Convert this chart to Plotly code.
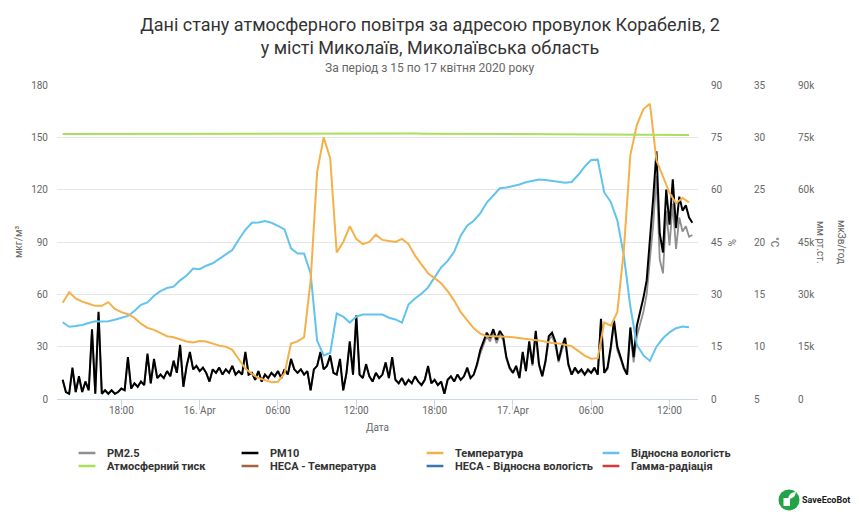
import pandas as pd
import plotly.graph_objects as go

# --- data (15-17 April 2020) ---
# PM values every 15 min from 15 Apr 13:30, one row per hour
pm10 = [
    11, 4, 3, 18,   4, 13, 4, 10,   5, 40, 3, 50,   3, 5, 3, 5,
    3, 4, 6, 5,     24, 6, 9, 7,    10, 8, 26, 9,   23, 12, 14, 12,
    16, 13, 22, 15, 31, 7, 19, 27,  17, 19, 16, 18, 15, 10, 17, 15,
    18, 14, 17, 15, 19, 14, 16, 14, 27, 14, 15, 11, 16, 10, 14, 12,
    15, 13, 16, 12, 17, 14, 23, 17, 15, 17, 14, 16, 5, 17, 19, 27,
    17, 19, 25, 15, 14, 23, 5, 15,  33, 14, 48, 14, 12, 20, 13, 10,
    15, 12, 14, 21, 12, 24, 11, 9,  12, 8, 11, 9,   13, 10, 8, 11,
    19, 9, 11, 8,   10, 3, 11, 13,  10, 14, 11, 13, 18, 12, 14, 20,
    28, 33, 38, 35, 40, 34, 39, 36, 24, 18, 15, 19, 12, 27, 16, 33,
    20, 39, 20, 13, 22, 36, 38, 33, 22, 30, 35, 20, 14, 18, 15, 17,
    14, 17, 15, 18, 14, 46, 15, 18, 30, 45, 30, 24, 18, 14, 41, 24,
    42, 50, 58, 68, 90, 115, 142, 95, 84, 120, 100, 126, 98, 116, 108, 111,
    104, 101,
]
pm25 = [
    11, 4, 3, 17,   4, 12, 4, 10,   5, 39, 3, 49,   3, 5, 3, 5,
    3, 4, 6, 5,     23, 6, 9, 7,    10, 8, 25, 9,   22, 12, 14, 12,
    16, 13, 21, 15, 30, 7, 19, 26,  17, 19, 16, 18, 15, 10, 17, 15,
    18, 14, 17, 15, 19, 14, 16, 14, 26, 14, 15, 11, 16, 10, 14, 12,
    15, 13, 16, 12, 17, 14, 22, 17, 15, 17, 14, 16, 5, 17, 19, 26,
    17, 19, 24, 15, 14, 22, 5, 15,  32, 14, 46, 14, 12, 19, 13, 10,
    15, 12, 14, 20, 12, 23, 11, 9,  12, 8, 11, 9,   13, 10, 8, 11,
    18, 9, 11, 8,   10, 3, 11, 13,  10, 14, 11, 13, 17, 12, 14, 19,
    26, 31, 36, 33, 38, 32, 37, 34, 23, 17, 15, 18, 12, 26, 16, 31,
    19, 37, 19, 13, 21, 34, 36, 31, 21, 28, 33, 19, 14, 17, 15, 16,
    14, 16, 15, 17, 14, 44, 15, 17, 28, 43, 28, 23, 17, 14, 38, 21,
    36, 43, 50, 60, 78, 100, 128, 80, 72, 108, 88, 112, 86, 104, 96, 99,
    93, 94,
]
# temperature (°C) and relative humidity (%) every 30 min from 15 Apr 13:30
temperature = [
    14.2, 15.2, 14.6, 14.3, 14.1, 13.9, 13.9, 14.25, 13.6, 13.3,
    13.1, 12.75, 12.2, 11.8, 11.6, 11.3, 11.0, 10.9, 10.7, 10.5,
    10.4, 10.55, 10.5, 10.3, 10.1, 10.0, 9.7, 8.8, 7.9, 7.4,
    7.0, 6.8, 6.6, 6.65, 7.45, 10.3, 10.5, 10.9, 16.3, 26.7,
    30.0, 28.0, 19.0, 20.0, 21.5, 20.3, 19.8, 20.0, 20.7, 20.2,
    20.1, 20.0, 20.3, 19.8, 18.7, 17.9, 17.0, 16.55, 16.05, 15.3,
    14.4, 13.3, 12.5, 11.75, 11.25, 11.0, 11.0, 11.0, 10.95, 10.9,
    10.8, 10.7, 10.65, 10.6, 10.45, 10.35, 10.3, 10.2, 10.05, 9.6,
    9.15, 8.85, 8.9, 12.3, 12.0, 13.3, 19.2, 28.3, 31.2, 32.7,
    33.2, 27.8, 26.3, 24.7, 23.7, 24.2, 23.8,
]
humidity = [
    22.0, 20.7, 20.9, 21.2, 21.8, 22.3, 22.2, 22.3, 22.7, 23.2,
    23.8, 25.2, 27.0, 27.7, 29.6, 30.9, 31.8, 32.2, 34.0, 35.4,
    37.4, 37.2, 38.2, 38.9, 40.1, 41.3, 42.7, 45.7, 48.5, 50.5,
    50.6, 51.0, 50.5, 49.6, 48.6, 43.2, 41.7, 41.7, 36.0, 16.7,
    12.5, 13.2, 24.5, 23.6, 21.9, 23.6, 24.2, 24.2, 24.2, 24.2,
    23.3, 22.8, 21.9, 27.1, 28.8, 30.2, 32.0, 34.7, 37.7, 39.6,
    42.2, 46.8, 49.7, 51.1, 53.2, 56.3, 58.5, 60.4, 60.6, 61.0,
    61.5, 62.1, 62.6, 62.9, 62.8, 62.6, 62.3, 62.0, 62.2, 64.2,
    66.6, 68.5, 68.6, 59.2, 56.5, 51.2, 41.2, 26.5, 15.5, 12.5,
    10.9, 15.0, 17.4, 19.1, 20.3, 20.75, 20.55,
]
# atmospheric pressure, hourly from 15 Apr 13:30
pressure = [
    75950, 75960, 75970, 75990, 76000, 76010, 76020, 76040, 76050, 76060,
    76070, 76080, 76090, 76100, 76110, 76120, 76130, 76140, 76150, 76160,
    76160, 76170, 76160, 76150, 76140, 76120, 76100, 76080, 76060, 76030,
    76000, 75980, 75960, 75940, 75920, 75900, 75880, 75860, 75840, 75820,
    75800, 75780, 75760, 75740, 75720, 75700, 75680, 75670, 75660,
]

start = "2020-04-15 13:30"
t_pm = pd.date_range(start, periods=len(pm10), freq="15min")
t_half = pd.date_range(start, periods=len(temperature), freq="30min")
t_hour = pd.date_range(start, periods=len(pressure), freq="60min")

tick_dates = ["2020-04-15 18:00", "2020-04-16 00:00", "2020-04-16 06:00", "2020-04-16 12:00",
              "2020-04-16 18:00", "2020-04-17 00:00", "2020-04-17 06:00", "2020-04-17 12:00"]
tick_labels = ["18:00", "16. Apr", "06:00", "12:00", "18:00", "17. Apr", "06:00", "12:00"]

series = [
    ("PM2.5", "#8f8f8f"),
    ("PM10", "#000000"),
    ("Температура", "#f5b04a"),
    ("Відносна вологість", "#62c3ee"),
    ("Атмосферний тиск", "#a8e05a"),
    ("НЕСА - Температура", "#a4633c"),
    ("НЕСА - Відносна вологість", "#3a76ad"),
    ("Гамма-радіація", "#d83a3a"),
]
colors = dict(series)

FONT = "Roboto, sans-serif"

# the page body adds 8px around the figure, so the figure is 8px smaller
OFF = 8
W, H = 860 - OFF, 523 - OFF
ML, MR, MT, MB = 57 - OFF, 10, 85 - OFF, 124
PW, PH = W - ML - MR, H - MT - MB


def px(x):
    # screen x (pixels) -> paper fraction
    return (x - OFF - ML) / PW


def py(y):
    # screen y (pixels) -> paper fraction
    return (H - MB - (y - OFF)) / PH


fig = go.Figure()
fig.add_trace(go.Scatter(x=t_pm, y=pm25, mode="lines", line=dict(color=colors["PM2.5"], width=1.8),
                         showlegend=False, yaxis="y"))
fig.add_trace(go.Scatter(x=t_pm, y=pm10, mode="lines", line=dict(color=colors["PM10"], width=2),
                         showlegend=False, yaxis="y"))
fig.add_trace(go.Scatter(x=t_half, y=temperature, mode="lines",
                         line=dict(color=colors["Температура"], width=2), showlegend=False, yaxis="y3"))
fig.add_trace(go.Scatter(x=t_half, y=humidity, mode="lines",
                         line=dict(color=colors["Відносна вологість"], width=2), showlegend=False, yaxis="y2"))
fig.add_trace(go.Scatter(x=t_hour, y=pressure, mode="lines",
                         line=dict(color=colors["Атмосферний тиск"], width=2), showlegend=False, yaxis="y4"))

# legend: one small legend per entry, 4 columns x 2 rows
col_text = [105, 268, 453, 629]
row_y = [453, 466]
legend_layouts = {}
for i, (name, c) in enumerate(series):
    key = "legend" if i == 0 else f"legend{i + 1}"
    fig.add_trace(go.Scatter(x=[None], y=[None], mode="markers", name=name,
                             marker=dict(symbol="line-ew", size=12, line=dict(width=2.5, color=c)),
                             legend=key, hoverinfo="skip"))
    legend_layouts[key] = dict(
        x=px(col_text[i % 4] - 38), y=py(row_y[i // 4]), xanchor="left", yanchor="middle",
        bgcolor="rgba(0,0,0,0)", borderwidth=0,
        font=dict(family=FONT, size=11, color="#333333", weight="bold"),
    )

axis_font = dict(family=FONT, size=10, color="#666666")

fig.update_layout(
    width=W, height=H,
    margin=dict(l=ML, r=MR, t=MT, b=MB),
    paper_bgcolor="white", plot_bgcolor="white",
    title=dict(
        text="Дані стану атмосферного повітря за адресою провулок Корабелів, 2<br>у місті Миколаїв, Миколаївська область",
        x=(430 - OFF) / W, xanchor="center", y=1 - (30.5 - OFF) / H, yanchor="middle",
        font=dict(family=FONT, size=18, color="#333333"),
    ),
    xaxis=dict(
        domain=[0, px(698)], type="date",
        range=["2020-04-15 13:04", "2020-04-17 14:11"],
        tickvals=tick_dates, ticktext=tick_labels,
        showgrid=False, showline=True, linecolor="#ccd6eb", linewidth=1,
        ticks="outside", ticklen=10, tickcolor="#ccd6eb", ticklabelstandoff=-8,
        tickfont=axis_font, zeroline=False,
        title=dict(text="Дата", font=dict(family=FONT, size=10, color="#666666"), standoff=8),
    ),
    yaxis=dict(
        range=[0, 180], dtick=30, tick0=0,
        showgrid=True, gridcolor="#e6e6e6", zeroline=False, showline=False,
        tickfont=axis_font, ticklabelstandoff=8,
        title=dict(text="мкг/м³", font=dict(family=FONT, size=10, color="#666666"), standoff=6),
    ),
    yaxis2=dict(range=[0, 90], dtick=15, overlaying="y", side="right", anchor="free",
                position=px(710), showgrid=False, zeroline=False, tickfont=axis_font),
    yaxis3=dict(range=[5, 35], dtick=5, overlaying="y", side="right", anchor="free",
                position=px(753), showgrid=False, zeroline=False, tickfont=axis_font),
    yaxis4=dict(range=[0, 90000], dtick=15000, overlaying="y", side="right", anchor="free",
                position=px(797), showgrid=False, zeroline=False, tickfont=axis_font,
                tickformat="~s"),
    **legend_layouts,
)

annotations = [
    dict(text="За період з 15 по 17 квітня 2020 року", x=px(430), y=py(68), xref="paper", yref="paper",
         xanchor="center", yanchor="middle", showarrow=False,
         font=dict(family=FONT, size=12, color="#666666")),
]
for label, xpix in [("%", 732), ("°C", 775), ("мм рт.ст.", 821), ("мкЗв/год", 842)]:
    annotations.append(dict(text=label, x=px(xpix), y=py(242), xref="paper", yref="paper",
                            xanchor="center", yanchor="middle", textangle=90, showarrow=False,
                            font=dict(family=FONT, size=10, color="#666666")))
annotations.append(dict(text="<b>SaveEcoBot</b>", x=px(800), y=py(500), xref="paper", yref="paper",
                        xanchor="left", yanchor="middle", showarrow=False,
                        font=dict(family=FONT, size=9, color="#1a1a1a")))
fig.update_layout(annotations=annotations)

# logo badge
fig.add_shape(type="circle", xref="paper", yref="paper",
              x0=px(778.5), x1=px(799.5), y0=py(510.5), y1=py(489.5),
              fillcolor="#21a346", line=dict(width=0))
fig.add_shape(type="rect", xref="paper", yref="paper",
              x0=px(783.5), x1=px(790), y0=py(506), y1=py(498),
              fillcolor="white", line=dict(width=0))
fig.add_shape(type="path", xref="paper", yref="paper",
              path=(f"M {px(788)},{py(499)} Q {px(789)},{py(492)} {px(796)},{py(492)} "
                    f"Q {px(795)},{py(499)} {px(788)},{py(499)} Z"),
              fillcolor="white", line=dict(width=0))

fig.write_html("out.html")
